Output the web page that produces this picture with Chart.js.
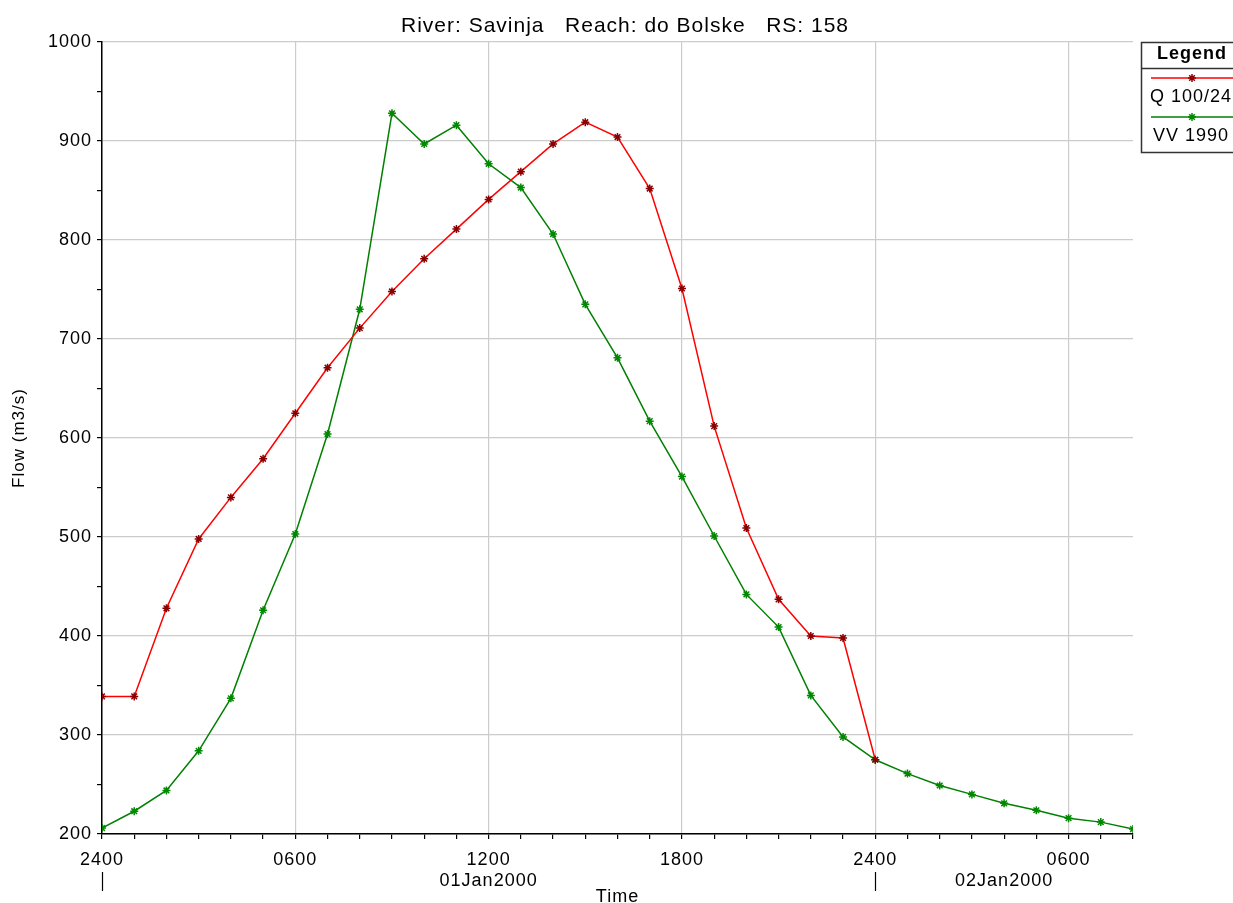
<!DOCTYPE html>
<html>
<head>
<meta charset="utf-8">
<title>River: Savinja Reach: do Bolske RS: 158</title>
<script src="https://cdn.jsdelivr.net/npm/chart.js@4.4.1/dist/chart.umd.min.js"></script>
<style>
  html, body { margin: 0; padding: 0; background: #fff; }
  #wrap { width: 1233px; height: 903px; }
</style>
</head>
<body>
<div id="wrap"><canvas id="myChart" width="1233" height="903"></canvas></div>
<script>
// hours from 2400 on 31Dec1999
var hours = [0, 1, 2, 3, 4, 5, 6, 7, 8, 9, 10, 11, 12, 13, 14, 15, 16,
             17, 18, 19, 20, 21, 22, 23, 24, 25, 26, 27, 28, 29, 30, 31, 32];
// Q 100/24 hydrograph (ends at 2400)
var q100Flow = [339, 339, 428, 498, 540, 579, 625, 671, 711, 748, 781, 811, 841,
                869, 897, 919, 904, 852, 751, 612, 509, 437, 400, 398, 275];
// VV 1990 hydrograph
var vv1990Flow = [206, 223, 244, 284, 337, 426, 503, 604, 730, 928, 897, 916, 877,
                  853, 806, 735, 681, 617, 561, 501, 442, 409, 340, 298, 275,
                  261, 249, 240, 231, 224, 216, 212, 205];
var seriesNames = ['Q 100/24', 'VV 1990'];
var clockLabels = {0: '2400', 6: '0600', 12: '1200', 18: '1800', 24: '2400', 30: '0600'};
var dayLabels = {12: '01Jan2000', 28: '02Jan2000'};
var dayStarts = [0, 24];
var chartTitle = 'River: Savinja   Reach: do Bolske   RS: 158';

var FONT = "'Liberation Sans', Arial, sans-serif";

function toPoints(values) {
    return values.map(function (v, i) { return {x: hours[i], y: v}; });
}

var overlay = {
    id: 'overlay',
    beforeUpdate: function (chart) { chart.ctx.letterSpacing = '1px'; },
    beforeDraw: function (chart) { chart.ctx.letterSpacing = '1px'; },
    afterDraw: function (chart) {
        var ctx = chart.ctx;
        var xs = chart.scales.x;
        var area = chart.chartArea;
        ctx.save();

        // title
        ctx.fillStyle = '#000';
        ctx.font = '21px ' + FONT;
        ctx.textAlign = 'center';
        ctx.textBaseline = 'middle';
        ctx.fillText(chartTitle, 625, 26);

        // day separators under the time axis
        ctx.strokeStyle = '#000';
        ctx.lineWidth = 1.2;
        dayStarts.forEach(function (h) {
            var px = Math.round(xs.getPixelForValue(h)) + 0.5;
            ctx.beginPath();
            ctx.moveTo(px, area.bottom + 38);
            ctx.lineTo(px, area.bottom + 57);
            ctx.stroke();
        });

        // legend box
        var lx = 1141, ly = 42, lw = 102, lh = 110, cx = lx + lw / 2;
        ctx.fillStyle = '#fff';
        ctx.fillRect(lx, ly, lw, lh);
        ctx.strokeStyle = '#333';
        ctx.lineWidth = 1.5;
        ctx.strokeRect(lx + 0.5, ly + 0.5, lw, lh);
        ctx.beginPath();
        ctx.moveTo(lx, ly + 26.5);
        ctx.lineTo(lx + lw, ly + 26.5);
        ctx.stroke();

        ctx.fillStyle = '#000';
        ctx.font = 'bold 18px ' + FONT;
        ctx.textAlign = 'center';
        ctx.fillText('Legend', cx, ly + 12);

        chart.data.datasets.forEach(function (ds, i) {
            var y = ly + 36 + i * 39;
            ctx.strokeStyle = ds.borderColor;
            ctx.lineWidth = 1.5;
            ctx.beginPath();
            ctx.moveTo(lx + 10, y);
            ctx.lineTo(lx + lw, y);
            ctx.stroke();
            ctx.strokeStyle = ds.pointBorderColor;
            Chart.helpers.drawPoint(ctx, {pointStyle: 'star', radius: 4, borderWidth: 1.5, rotation: 0}, cx, y);
            ctx.fillStyle = '#000';
            ctx.font = '18px ' + FONT;
            ctx.textAlign = 'left';
            ctx.fillText(ds.label, lx + 9 + i * 3, y + 19);
        });
        ctx.restore();
    }
};

var ctx = document.getElementById('myChart').getContext('2d');
var myChart = new Chart(ctx, {
    type: 'line',
    data: {
        datasets: [{
            label: seriesNames[0],
            data: toPoints(q100Flow),
            borderColor: '#ff0000',
            borderWidth: 1.5,
            pointStyle: 'star',
            pointRadius: 4,
            pointBorderWidth: 1.5,
            pointBorderColor: '#8b0000',
            pointBackgroundColor: '#8b0000',
            tension: 0
        }, {
            label: seriesNames[1],
            data: toPoints(vv1990Flow),
            borderColor: '#008000',
            borderWidth: 1.5,
            pointStyle: 'star',
            pointRadius: 4,
            pointBorderWidth: 1.5,
            pointBorderColor: '#008800',
            pointBackgroundColor: '#008800',
            tension: 0
        }]
    },
    options: {
        responsive: false,
        animation: false,
        layout: { padding: { top: 42, right: 100, left: 0, bottom: 0 } },
        plugins: {
            legend: { display: false },
            title: { display: false },
            tooltip: { enabled: false }
        },
        scales: {
            x: {
                type: 'linear',
                min: 0,
                max: 32,
                afterFit: function (scale) { scale.height = 69; },
                border: { color: '#000', width: 1.5 },
                grid: {
                    color: function (c) { return c.tick && c.tick.value % 6 === 0 ? '#cccccc' : 'rgba(0,0,0,0)'; },
                    lineWidth: 1.2,
                    tickColor: '#000',
                    tickLength: 5
                },
                ticks: {
                    stepSize: 1,
                    autoSkip: false,
                    maxRotation: 0,
                    padding: 10,
                    color: '#000',
                    font: { family: FONT, size: 18, lineHeight: 1.2 },
                    callback: function (v) {
                        var lines = [clockLabels[v] || ''];
                        if (dayLabels[v]) lines.push(dayLabels[v]);
                        return lines.length > 1 ? lines : lines[0];
                    }
                },
                title: {
                    display: true,
                    text: 'Time',
                    color: '#000',
                    font: { family: FONT, size: 18, lineHeight: 1 },
                    padding: { top: 0, bottom: -3 }
                }
            },
            y: {
                min: 200,
                max: 1000,
                afterFit: function (scale) { scale.width = 102; },
                border: { color: '#000', width: 1.5 },
                grid: {
                    color: function (c) { return c.tick && c.tick.value % 100 === 0 ? '#cccccc' : 'rgba(0,0,0,0)'; },
                    lineWidth: 1.2,
                    tickColor: '#000',
                    tickLength: 5
                },
                ticks: {
                    stepSize: 50,
                    autoSkip: false,
                    padding: 5,
                    color: '#000',
                    font: { family: FONT, size: 18 },
                    callback: function (v) { return v % 100 === 0 ? String(v) : ''; }
                },
                title: {
                    display: true,
                    text: 'Flow (m3/s)',
                    color: '#000',
                    font: { family: FONT, size: 17, lineHeight: 1.2 },
                    padding: { top: 9, bottom: 0 }
                }
            }
        }
    },
    plugins: [overlay]
});
</script>
</body>
</html>
